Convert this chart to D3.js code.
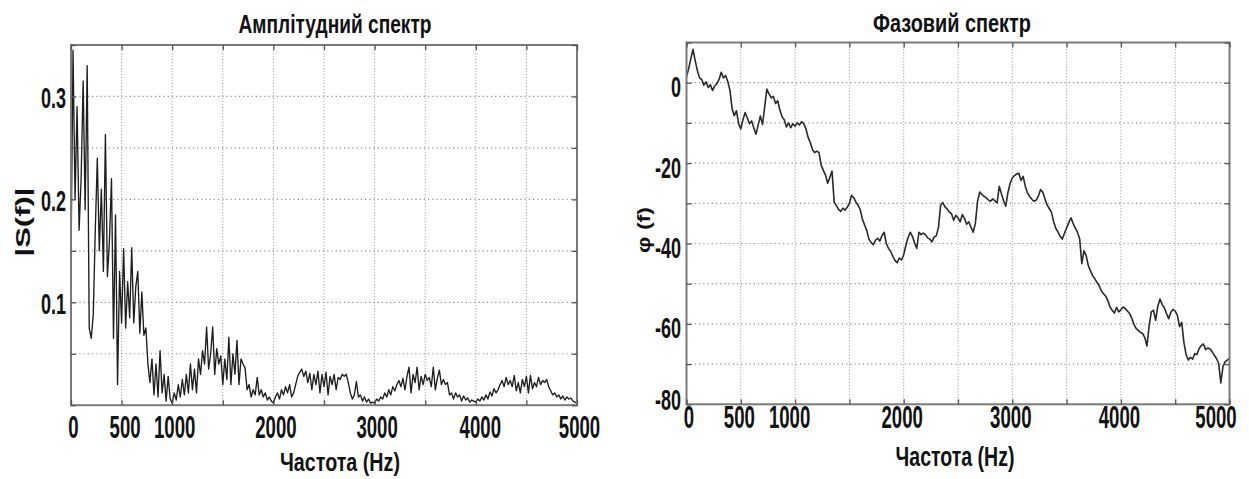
<!DOCTYPE html>
<html>
<head>
<meta charset="utf-8">
<script src="https://cdn.jsdelivr.net/npm/d3@7"></script>
<style>
  html, body { margin: 0; padding: 0; background: #fff; }
  svg { display: block; }
</style>
</head>
<body>
<svg id="chart" width="1249" height="479"></svg>
<script>
// ---- data -----------------------------------------------------------------
// Spectrum sampled every 20 Hz from 0 to 5000 Hz.
const stepHz = 20;

// |S(f)| amplitude spectrum
const amplitude = [
  0.14, 0.345, 0.20, 0.29, 0.17, 0.22, 0.315, 0.19, 0.33, 0.075,
  0.065, 0.088, 0.17, 0.24, 0.15, 0.21, 0.13, 0.263, 0.125, 0.16,
  0.22, 0.065, 0.185, 0.02, 0.13, 0.08, 0.152, 0.075, 0.12, 0.085,
  0.153, 0.08, 0.115, 0.13, 0.07, 0.11, 0.068, 0.075, 0.04, 0.022,
  0.045, 0.01, 0.04, 0.008, 0.053, 0.012, 0.03, 0.004, 0.028, 0.006,
  0.002, 0.012, 0.005, 0.02, 0.008, 0.025, 0.01, 0.03, 0.012, 0.04,
  0.015, 0.035, 0.012, 0.045, 0.03, 0.053, 0.04, 0.076, 0.035, 0.05,
  0.076, 0.03, 0.055, 0.04, 0.048, 0.02, 0.045, 0.025, 0.066, 0.02,
  0.05, 0.03, 0.063, 0.02, 0.045, 0.04, 0.036, 0.015, 0.02, 0.008,
  0.015, 0.01, 0.027, 0.01, 0.015, 0.008, 0.012, 0.005, 0.008, 0.004,
  0.002, 0.008, 0.012, 0.006, 0.015, 0.01, 0.018, 0.012, 0.02, 0.008,
  0.012, 0.02, 0.028, 0.032, 0.035, 0.028, 0.033, 0.022, 0.031, 0.015,
  0.03, 0.02, 0.033, 0.012, 0.03, 0.018, 0.032, 0.01, 0.028, 0.02,
  0.03, 0.015, 0.027, 0.025, 0.03, 0.028, 0.03, 0.022, 0.012, 0.006,
  0.01, 0.023, 0.008, 0.01, 0.004, 0.008, 0.003, 0.006, 0.002, 0.003,
  0.002, 0.006, 0.004, 0.008, 0.006, 0.012, 0.008, 0.015, 0.01, 0.018,
  0.014, 0.02, 0.024, 0.018, 0.026, 0.015, 0.028, 0.037, 0.012, 0.03,
  0.022, 0.037, 0.015, 0.028, 0.02, 0.03, 0.024, 0.027, 0.018, 0.037,
  0.015, 0.026, 0.034, 0.02, 0.025, 0.02, 0.022, 0.01, 0.012, 0.006,
  0.012, 0.008, 0.01, 0.004, 0.009, 0.005, 0.007, 0.003, 0.005, 0.004,
  0.003, 0.006, 0.004, 0.008, 0.005, 0.01, 0.006, 0.013, 0.009, 0.016,
  0.012, 0.015, 0.02, 0.024, 0.018, 0.027, 0.02, 0.024, 0.018, 0.029,
  0.014, 0.022, 0.012, 0.025, 0.018, 0.028, 0.012, 0.029, 0.016, 0.022,
  0.018, 0.027, 0.02, 0.024, 0.022, 0.025, 0.018, 0.014, 0.01, 0.012,
  0.008, 0.01, 0.006, 0.009, 0.005, 0.008, 0.006, 0.007, 0.004, 0.003,
  0.002
];

// φ(f) phase spectrum
const phase = [
  1.5, 3.5, 6, 8.3, 5.5, 3, 1.2, 0.8, -0.6, 0.2,
  -1.2, -0.5, -1.9, -0.8, -0.2, 0.8, 2.6, 1.2, 1.8, 0.3,
  -1.9, -6.5, -8.2, -7, -10.2, -11.5, -9.2, -7.4, -8.8, -10.2,
  -9.5, -11.3, -12.8, -10.5, -8.3, -10.4, -6, -1.6, -2.8, -3.8,
  -3.4, -5.2, -4.5, -6.8, -8.5, -9.2, -11, -10, -11.2, -10.2,
  -10.8, -10, -10.5, -9.7, -10.2, -11.5, -13.6, -14.9, -16.6, -17.4,
  -17, -17.4, -20.5, -21.8, -23, -25, -23.5, -22, -29.7, -30.6,
  -31.5, -32, -31.2, -31.7, -31, -30, -28, -28.6, -29.7, -30.5,
  -31.6, -34, -35.4, -36.8, -38.9, -39.8, -40.3, -39.2, -38.7, -39.4,
  -38, -37.2, -40, -41.2, -42, -43.2, -44.2, -44.8, -43.6, -44.1,
  -42.8, -40.5, -38.5, -37.2, -38.2, -39.8, -41.2, -37.2, -37.8, -37.4,
  -37.8, -38.6, -38.9, -39.6, -38.4, -38.1, -36, -30.5, -29.8, -30.9,
  -31.4, -32.2, -32.6, -34.2, -33, -33.6, -34.6, -32.8, -33.8, -35.2,
  -34.6, -36, -37.2, -35, -29.5, -27.2, -27.8, -28.3, -28.6, -29.2,
  -29.5, -28.9, -29.4, -29.9, -25.8, -27.6, -29.4, -30.7, -27.3, -25,
  -23.7, -23.1, -22.7, -22.5, -24.3, -23.3, -25.8, -27.4, -28.3, -29,
  -29.5, -29.2, -28.2, -26.6, -27.2, -28.8, -30.4, -31.3, -32.2, -34.5,
  -36.2, -37.1, -38.2, -38.9, -37.5, -36.1, -34.8, -33.6, -35, -36.2,
  -37.2, -38.8, -45, -41.8, -43, -45.5, -46.8, -48, -48.8, -49.7,
  -50.5, -51.8, -52.5, -53.1, -54.2, -55.8, -56.6, -57.3, -55.9, -57,
  -56.5, -55.8, -56.2, -56.8, -57.4, -58.6, -60.1, -61.1, -61.6, -62.1,
  -62.4, -63.4, -65.5, -60.5, -57, -56.6, -59.1, -55.6, -53.8, -55.2,
  -56, -57.4, -58.7, -57.1, -56.4, -56.8, -57.8, -60.7, -59.6, -64.6,
  -67.6, -69, -68.3, -68.8, -67.4, -67.6, -66.1, -65.4, -65, -66.4,
  -66, -66.2, -66.9, -67.8, -68.6, -69.8, -74.7, -70.6, -69.4, -69,
  -68.6
];

// axis ticks (grid positions) and the ones that carry a label
const freqTicks = [0, 500, 1000, 1500, 2000, 2500, 3000, 3500, 4000, 4500, 5000];
const freqLabels = [0, 500, 1000, 2000, 3000, 4000, 5000];
const ampTicks = [0, 0.05, 0.1, 0.15, 0.2, 0.25, 0.3, 0.35];
const ampLabels = [0.1, 0.2, 0.3];
const phaseTicks = [-80, -70, -60, -50, -40, -30, -20, -10, 0, 10];
const phaseLabels = [-80, -60, -40, -20, 0];

const titles = ["Амплітудний спектр", "Фазовий спектр"];
const xTitle = "Частота (Hz)";
const yTitles = ["|S(f)|", "φ (f)"];

// ---- drawing ---------------------------------------------------------------
const FONT = "'Liberation Sans', Arial, Helvetica, sans-serif";
const svg = d3.select("#chart");

// Bold text squeezed horizontally to a given width (narrow, tall lettering)
function squeezedText(parent, str, opts) {
  const t = parent.append("text")
    .text(str)
    .attr("x", 0).attr("y", 0)
    .attr("font-family", FONT)
    .attr("font-weight", "bold")
    .attr("font-size", opts.size)
    .attr("fill", "#111")
    .attr("text-anchor", opts.anchor || "middle");
  const natural = t.node().getComputedTextLength();
  const sx = opts.width ? opts.width / natural : (opts.sx || 1);
  const rot = opts.rotate ? ` rotate(${opts.rotate})` : "";
  t.attr("transform", `translate(${opts.x},${opts.y})${rot} scale(${sx},1)`);
  return t;
}

function styleTickLabels(axisG, sx, size, dy, dxMap) {
  axisG.selectAll(".tick text")
    .attr("font-family", FONT)
    .attr("font-weight", "bold")
    .attr("font-size", size)
    .attr("fill", "#111")
    .attr("x", null).attr("dy", null)
    .attr("y", 0)
    .attr("transform", d => `translate(${(dxMap && dxMap(d)) || 0},${dy}) scale(${sx},1)`);
}

function panel(cfg) {
  const g = svg.append("g");
  const x = d3.scaleLinear().domain([0, 5000]).range([cfg.left, cfg.right]);
  const y = d3.scaleLinear().domain(cfg.yDomain).range([cfg.bottom, cfg.top]);
  const [y0, y1] = [cfg.bottom, cfg.top];

  // dotted grid
  g.append("g").selectAll("line")
    .data(freqTicks.slice(1, -1)).join("line")
    .attr("x1", d => x(d)).attr("x2", d => x(d))
    .attr("y1", y0).attr("y2", y1)
    .attr("stroke", "#8f8f8f").attr("stroke-width", 1)
    .attr("stroke-dasharray", "1,2");
  g.append("g").selectAll("line")
    .data(cfg.yTicks.slice(1, -1)).join("line")
    .attr("x1", cfg.left).attr("x2", cfg.right)
    .attr("y1", d => y(d)).attr("y2", d => y(d))
    .attr("stroke", "#8f8f8f").attr("stroke-width", 1.2)
    .attr("stroke-dasharray", "1.2,3");

  // spectrum trace
  const line = d3.line().x((d, i) => x(i * stepHz)).y(d => y(d));
  g.append("path").datum(cfg.values)
    .attr("d", line)
    .attr("fill", "none")
    .attr("stroke", cfg.stroke)
    .attr("stroke-width", cfg.strokeWidth)
    .attr("stroke-linejoin", "round");

  // frame
  g.append("rect")
    .attr("x", cfg.left).attr("y", cfg.top)
    .attr("width", cfg.right - cfg.left).attr("height", cfg.bottom - cfg.top)
    .attr("fill", "none").attr("stroke", "#7a7a7a").attr("stroke-width", 2);

  // axes: ticks point inward on all four sides
  const fmtX = d => freqLabels.includes(d) ? String(d) : "";
  const bottom = g.append("g").attr("transform", `translate(0,${cfg.bottom})`)
    .call(d3.axisBottom(x).tickValues(freqTicks).tickSizeInner(-5).tickSizeOuter(0).tickFormat(fmtX));
  const top = g.append("g").attr("transform", `translate(0,${cfg.top})`)
    .call(d3.axisTop(x).tickValues(freqTicks).tickSizeInner(-5).tickSizeOuter(0).tickFormat(""));
  const leftAx = g.append("g").attr("transform", `translate(${cfg.left},0)`)
    .call(d3.axisLeft(y).tickValues(cfg.yTicks).tickSizeInner(-5).tickSizeOuter(0).tickFormat(cfg.fmtY));
  const rightAx = g.append("g").attr("transform", `translate(${cfg.right},0)`)
    .call(d3.axisRight(y).tickValues(cfg.yTicks).tickSizeInner(-5).tickSizeOuter(0).tickFormat(""));
  [bottom, top, leftAx, rightAx].forEach(a => {
    a.select(".domain").remove();
    a.selectAll(".tick line").attr("stroke", "#555").attr("stroke-width", 1.3);
  });

  styleTickLabels(bottom, 0.6, 31, cfg.xLabelBase, cfg.xLabelDx);
  bottom.selectAll(".tick text").attr("text-anchor", "middle");
  styleTickLabels(leftAx, 0.6, 30, 0, null);
  leftAx.selectAll(".tick text")
    .attr("text-anchor", "end")
    .attr("transform", d => `translate(${cfg.yLabelRight - cfg.left},${cfg.yLabelDy(d)}) scale(0.6,1)`);

  // titles
  squeezedText(g, cfg.title, { x: cfg.titleX, y: cfg.titleBase, size: 26, width: cfg.titleW });
  squeezedText(g, xTitle, { x: cfg.xTitleX, y: cfg.xTitleBase, size: cfg.xTitleSize, width: cfg.xTitleW });
  squeezedText(g, cfg.yTitle, { x: cfg.yTitleX, y: cfg.yTitleY, size: cfg.yTitleSize, width: cfg.yTitleW, rotate: -90 })
    .attr("dominant-baseline", "central");
}

panel({
  left: 71, right: 577, top: 45, bottom: 405.2,
  yDomain: [0, 0.35], yTicks: ampTicks, values: amplitude,
  stroke: "#1e1e1e", strokeWidth: 1.35,
  fmtY: d => ampLabels.some(v => Math.abs(v - d) < 1e-9) ? String(d) : "",
  xLabelBase: 33, xLabelDx: d => (d === 500 ? 3 : d === 4000 ? 4 : 2),
  yLabelRight: 66, yLabelDy: () => 11,
  title: titles[0], titleX: 335, titleBase: 33, titleW: 193,
  xTitleX: 340, xTitleBase: 471, xTitleW: 120, xTitleSize: 25,
  yTitle: yTitles[0], yTitleX: 23, yTitleY: 222, yTitleW: 69, yTitleSize: 21
});

panel({
  left: 686.5, right: 1229.5, top: 42.5, bottom: 404.3,
  yDomain: [-80, 10], yTicks: phaseTicks, values: phase,
  stroke: "#2a2a2a", strokeWidth: 1.6,
  fmtY: d => phaseLabels.includes(d) ? String(d) : "",
  xLabelBase: 24, xLabelDx: d => (d === 1000 ? -6 : d === 5000 ? -14 : d === 0 ? 2 : -2),
  yLabelRight: 681, yLabelDy: d => (d === -80 ? 5 : 14),
  title: titles[1], titleX: 952, titleBase: 32, titleW: 158,
  xTitleX: 955, xTitleBase: 466, xTitleW: 119, xTitleSize: 27,
  yTitle: yTitles[1], yTitleX: 643, yTitleY: 230, yTitleW: 46, yTitleSize: 19
});
</script>
</body>
</html>
